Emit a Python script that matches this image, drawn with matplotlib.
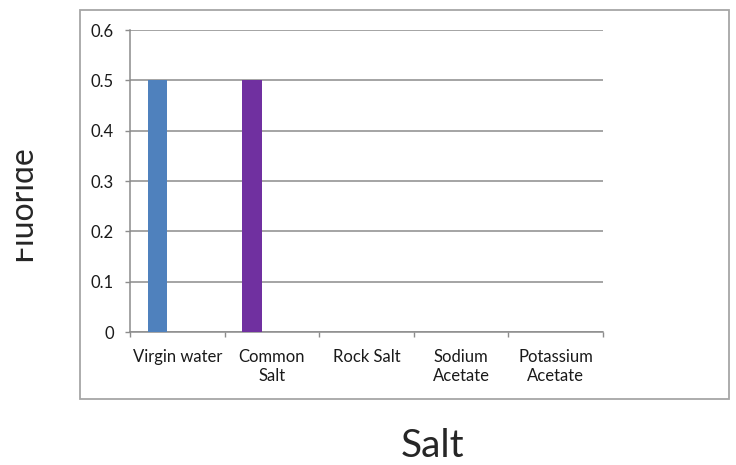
import matplotlib
matplotlib.use("Agg")
import matplotlib.pyplot as plt
import numpy as np
from matplotlib.patches import Rectangle
from matplotlib.transforms import Bbox, TransformedBbox

# Data
categories = ["Virgin water", "Common\nSalt", "Rock Salt", "Sodium\nAcetate", "Potassium\nAcetate"]
fluoride = [0.5, 0.5, 0.0, 0.0, 0.0]
bar_colors = ["#4F81BD", "#7030A0", "#9BBB59", "#4BACC6", "#F79646"]
yticks = [0, 0.1, 0.2, 0.3, 0.4, 0.5, 0.6]
ytick_labels = ["0", "0.1", "0.2", "0.3", "0.4", "0.5", "0.6"]

plt.rcParams['font.family'] = ['Lato', 'DejaVu Sans']

W, H = 736, 465
fig = plt.figure(figsize=(W / 100, H / 100), dpi=100)
fig.patch.set_facecolor("white")

# outer chart frame
fig.add_artist(Rectangle((80 / W, 1 - 399 / H), (729 - 80) / W, (399 - 10) / H,
                         transform=fig.transFigure, fill=False,
                         edgecolor="#A6A6A6", linewidth=1.3))

ax = fig.add_axes([130 / W, 1 - 332 / H, (603 - 130) / W, (332 - 30) / H])

x = np.arange(len(categories))
bar_w = 0.21
ax.bar(x - bar_w, fluoride, width=bar_w, color=bar_colors, zorder=3)

ax.set_xlim(-0.5, len(categories) - 0.5)
ax.set_ylim(0, 0.6)
ax.set_yticks(yticks)
ax.set_yticklabels(ytick_labels)
ax.set_xticks(x)
ax.set_xticklabels(categories, linespacing=1.25)
ax.set_xticks(np.arange(-0.5, len(categories)), minor=True)

grid_col = "#8C8C8C"
ax.yaxis.grid(True, color=grid_col, linewidth=1.1, zorder=0)
ax.set_axisbelow(True)
for s in ["top", "right"]:
    ax.spines[s].set_visible(False)
for s in ["left", "bottom"]:
    ax.spines[s].set_color(grid_col)
    ax.spines[s].set_linewidth(1.1)

ax.tick_params(axis="y", length=3.5, width=1.0, color=grid_col, pad=8,
               labelsize=12, labelcolor="#1A1A1A")
ax.tick_params(axis="x", which="major", length=0, pad=12,
               labelsize=12, labelcolor="#1A1A1A")
ax.tick_params(axis="x", which="minor", length=3.5, width=1.0, color=grid_col,
               direction="out")

# axis titles; the y title is clipped at the left edge of the canvas
fig.text(433 / W, 1 - 446 / H, "Salt", ha="center", va="center",
         fontsize=28, color="#262626")
ylab = fig.text(37 / W, 1 - 203 / H, "Fluoride", rotation=90, ha="right",
                va="center", fontsize=23, color="#262626")
ylab.set_clip_box(TransformedBbox(Bbox([[16 / W, 0], [1, 1]]), fig.transFigure))
ylab.set_clip_on(True)

fig.savefig("out.png", dpi=100, facecolor="white")
